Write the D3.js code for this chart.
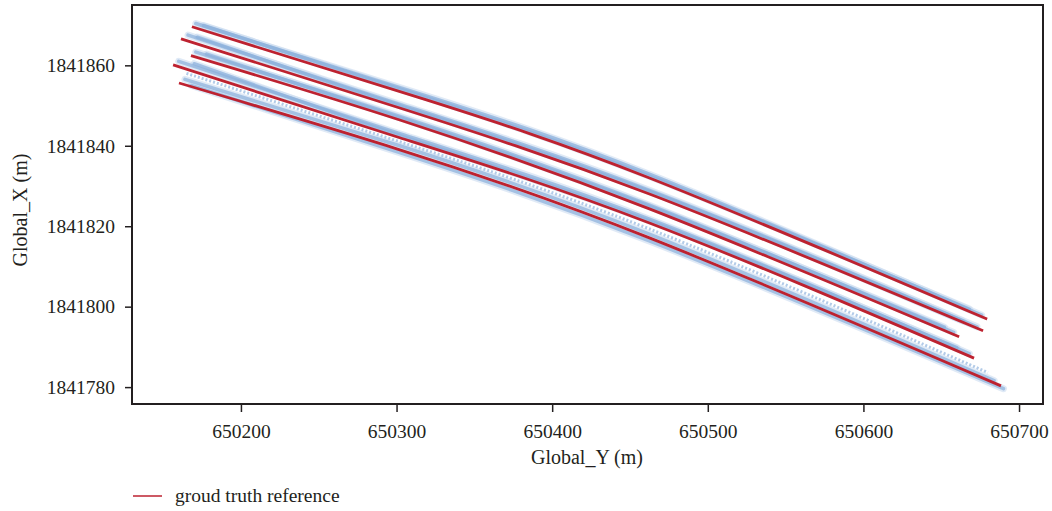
<!DOCTYPE html>
<html>
<head>
<meta charset="utf-8">
<script src="https://cdn.jsdelivr.net/npm/d3@7"></script>
<style>
  body { margin: 0; background: #fff; }
  text { font-family: "Liberation Serif", "DejaVu Serif", serif; fill: #231f20; }
</style>
</head>
<body>
<div id="chart"></div>
<script>
// axis ticks
var xTicks = [650200, 650300, 650400, 650500, 650600, 650700];
var yTicks = [1841780, 1841800, 1841820, 1841840, 1841860];

// ground truth reference lanes, [Global_Y, Global_X]
var lane1 = [[650168.5, 1841869.6], [650319.2, 1841851.4], [650462.5, 1841832.0], [650679.5, 1841796.9]];
var lane2 = [[650161.5, 1841866.6], [650302.1, 1841849.4], [650462.5, 1841828.0], [650676.9, 1841794.0]];
var lane3 = [[650167.9, 1841862.4], [650302.1, 1841846.4], [650462.5, 1841824.3], [650661.5, 1841792.5]];
var lane4 = [[650156.4, 1841860.1], [650302.1, 1841842.0], [650462.5, 1841820.8], [650671.1, 1841787.2]];
var lane5 = [[650160.2, 1841855.6], [650302.1, 1841839.0], [650462.5, 1841817.1], [650688.4, 1841780.3]];
var lanes = [lane1, lane2, lane3, lane4, lane5];

// recorded vehicle trajectories (blue), [Global_Y, Global_X]
var traj1 = [[650171, 1841870.4], [650319, 1841852.4], [650462, 1841833.0], [650676, 1841797.9]];
var traj2 = [[650176, 1841869.9], [650319, 1841852.0], [650462, 1841832.5], [650668, 1841799.4]];
var traj3 = [[650166, 1841867.5], [650302, 1841850.3], [650462, 1841829.0], [650673, 1841795.0]];
var traj4 = [[650172, 1841867.0], [650302, 1841850.0], [650462, 1841828.7], [650664, 1841796.4]];
var traj5 = [[650171, 1841863.3], [650302, 1841847.3], [650462, 1841825.3], [650658, 1841793.6]];
var traj6 = [[650178, 1841862.8], [650302, 1841847.0], [650462, 1841825.0], [650652, 1841794.9]];
var traj7 = [[650160, 1841861.0], [650302, 1841843.0], [650462, 1841821.8], [650668, 1841788.3]];
var traj8 = [[650170, 1841860.4], [650302, 1841842.6], [650462, 1841821.4], [650660, 1841789.8]];
var traj9 = [[650164, 1841856.5], [650302, 1841840.0], [650462, 1841818.1], [650684, 1841781.6]];
var traj10 = [[650168, 1841855.0], [650302, 1841838.3], [650462, 1841816.4], [650690, 1841779.6]];
var trajFaint = [[650165, 1841858.0], [650302, 1841841.0], [650462, 1841819.4], [650680, 1841783.6]];
var trajs = [traj1, traj2, traj3, traj4, traj5, traj6, traj7, traj8, traj9, traj10];

var width = 1052, height = 511;
var plotLeft = 132, plotRight = 1043, plotTop = 5, plotBottom = 404;

var svg = d3.select("#chart")
    .append("svg")
    .attr("width", width)
    .attr("height", height);

var x = d3.scaleLinear()
    .domain([650130, 650715.4])
    .range([plotLeft, plotRight]);

var y = d3.scaleLinear()
    .domain([1841775.8, 1841875])
    .range([plotBottom, plotTop]);

var line = d3.line()
    .x(function(d) { return x(d[0]); })
    .y(function(d) { return y(d[1]); })
    .curve(d3.curveNatural);

// blue trajectories: soft halo, then the core
svg.append("g").selectAll("path")
    .data(trajs)
    .enter().append("path")
    .attr("d", line)
    .attr("fill", "none")
    .attr("stroke", "#c6d8ee")
    .attr("stroke-width", 7)
    .attr("stroke-opacity", 0.55)
    .attr("stroke-linecap", "round");

svg.append("g").selectAll("path")
    .data(trajs)
    .enter().append("path")
    .attr("d", line)
    .attr("fill", "none")
    .attr("stroke", "#8aafdb")
    .attr("stroke-width", 3.5)
    .attr("stroke-opacity", 0.7)
    .attr("stroke-linecap", "round");

svg.append("path")
    .datum(trajFaint)
    .attr("d", line)
    .attr("fill", "none")
    .attr("stroke", "#b3cbe8")
    .attr("stroke-width", 3)
    .attr("stroke-dasharray", "2,2");

// red reference lines
svg.append("g").selectAll("path")
    .data(lanes)
    .enter().append("path")
    .attr("d", line)
    .attr("fill", "none")
    .attr("stroke", "#bd2230")
    .attr("stroke-width", 2.8);

// axes
var xAxis = svg.append("g")
    .attr("transform", "translate(0," + plotBottom + ")")
    .call(d3.axisBottom(x).tickValues(xTicks).tickFormat(d3.format("d")).tickSize(8).tickPadding(12));

var yAxis = svg.append("g")
    .attr("transform", "translate(" + plotLeft + ",0)")
    .call(d3.axisLeft(y).tickValues(yTicks).tickFormat(d3.format("d")).tickSize(7).tickPadding(10));

[xAxis, yAxis].forEach(function(a) {
    a.select(".domain").remove();
    a.selectAll("line").attr("stroke", "#231f20").attr("stroke-width", 1.5);
    a.selectAll("text").style("font-size", "19.5px").style("font-family", "Liberation Serif");
});

// frame
svg.append("rect")
    .attr("x", plotLeft)
    .attr("y", plotTop)
    .attr("width", plotRight - plotLeft)
    .attr("height", plotBottom - plotTop)
    .attr("fill", "none")
    .attr("stroke", "#231f20")
    .attr("stroke-width", 2);

// axis titles
svg.append("text")
    .attr("x", 587)
    .attr("y", 464)
    .attr("text-anchor", "middle")
    .style("font-size", "20px")
    .text("Global_Y (m)");

svg.append("text")
    .attr("transform", "translate(27,210) rotate(-90)")
    .attr("text-anchor", "middle")
    .style("font-size", "20px")
    .text("Global_X (m)");

// legend
svg.append("line")
    .attr("x1", 133).attr("x2", 162)
    .attr("y1", 496).attr("y2", 496)
    .attr("stroke", "#bd2230")
    .attr("stroke-width", 1.5);

svg.append("text")
    .attr("x", 175)
    .attr("y", 502)
    .style("font-size", "19.5px")
    .text("groud truth reference");
</script>
</body>
</html>
